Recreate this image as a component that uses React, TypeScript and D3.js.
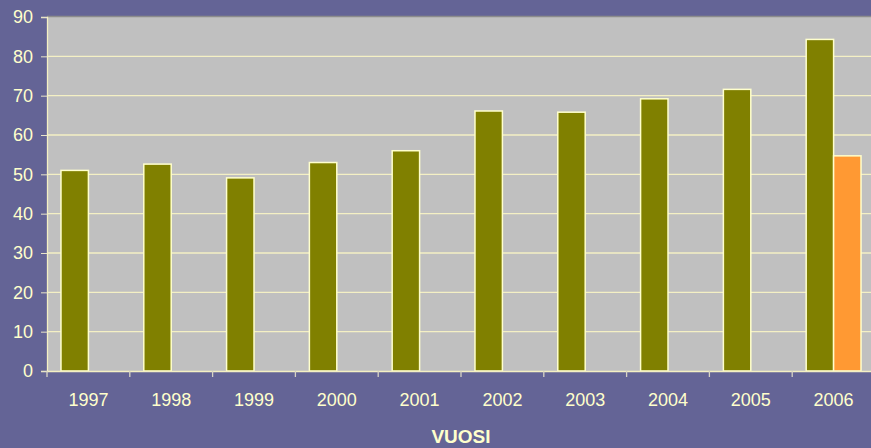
import React, { useRef, useEffect } from "react";
import { select, scaleBand, scaleLinear, axisLeft, axisBottom, range } from "d3";

const years = ["1997", "1998", "1999", "2000", "2001", "2002", "2003", "2004", "2005", "2006"];
const seriesKeys = ["a", "b"];
const seriesA = [51.0, 52.6, 49.1, 53.0, 56.0, 66.1, 65.8, 69.2, 71.6, 84.3];
const seriesB = [null, null, null, null, null, null, null, null, null, 54.7];
const seriesColors = ["#808000", "#FF9933"];
const yTicks = [0, 10, 20, 30, 40, 50, 60, 70, 80, 90];
const xTitle = "VUOSI";

const W = 871;
const H = 448;
const margin = { top: 17, left: 47, bottom: 77, right: -4 };
const textColor = "#FFFFCC";

export default function App() {
    const svgRef = useRef(null);

    useEffect(() => {
        const svg = select(svgRef.current);
        svg.selectAll("*").remove();

        const innerW = W - margin.left - margin.right;
        const innerH = H - margin.top - margin.bottom;

        const x = scaleBand().domain(years).range([margin.left, margin.left + innerW]).padding(0);
        const xs = scaleBand().domain(seriesKeys).range([0, x.bandwidth()]).paddingInner(0).paddingOuter(0.51);
        const y = scaleLinear().domain([0, 90]).range([margin.top + innerH, margin.top]);

        // background
        svg.append("rect").attr("width", W).attr("height", H).attr("fill", "#646496");
        svg.append("rect")
            .attr("x", margin.left).attr("y", margin.top)
            .attr("width", innerW).attr("height", innerH)
            .attr("fill", "#C0C0C0");

        // grid
        svg.append("g")
            .selectAll("line")
            .data(yTicks.filter(t => t > 0 && t < 90))
            .join("line")
            .attr("x1", margin.left).attr("x2", margin.left + innerW)
            .attr("y1", d => y(d)).attr("y2", d => y(d))
            .attr("stroke", "#F4F0C4").attr("stroke-width", 1.3);

        // top border
        svg.append("line")
            .attr("x1", margin.left).attr("x2", W)
            .attr("y1", margin.top - 0.5).attr("y2", margin.top - 0.5)
            .attr("stroke", "#8C8C8C").attr("stroke-width", 1.5);

        // bars
        const rows = years.map((yr, i) => ({ yr, vals: [seriesA[i], seriesB[i]] }));
        const groups = svg.append("g")
            .selectAll("g")
            .data(rows)
            .join("g")
            .attr("transform", d => `translate(${x(d.yr)},0)`);
        groups.selectAll("rect")
            .data(d => d.vals.map((v, k) => ({ v, k })).filter(e => e.v != null))
            .join("rect")
            .attr("x", e => xs(seriesKeys[e.k]))
            .attr("width", xs.bandwidth())
            .attr("y", e => y(e.v))
            .attr("height", e => y(0) - y(e.v))
            .attr("fill", e => seriesColors[e.k])
            .attr("stroke", "#FFFFCC")
            .attr("stroke-width", 1.5);

        // y axis
        const ya = svg.append("g")
            .attr("transform", `translate(${margin.left},0)`)
            .call(axisLeft(y).tickValues(yTicks).tickSize(6).tickPadding(8));
        ya.select(".domain").attr("stroke", "#F4F0C4").attr("stroke-width", 1.3);
        ya.selectAll(".tick line").attr("stroke", "#E8E4C8");
        ya.selectAll("text")
            .attr("fill", textColor)
            .attr("font-family", "'Liberation Sans', Arial, sans-serif")
            .attr("font-size", 18);

        // x axis
        const xa = svg.append("g")
            .attr("transform", `translate(0,${y(0)})`)
            .call(axisBottom(x).tickSize(0).tickPadding(22));
        xa.select(".domain").attr("stroke", "#F4F0C4").attr("stroke-width", 1.3);
        xa.selectAll("text")
            .attr("fill", textColor)
            .attr("font-family", "'Liberation Sans', Arial, sans-serif")
            .attr("font-size", 18);

        // category separators
        svg.append("g")
            .selectAll("line")
            .data(range(years.length))
            .join("line")
            .attr("x1", i => x(years[i])).attr("x2", i => x(years[i]))
            .attr("y1", y(0)).attr("y2", y(0) + 6)
            .attr("stroke", "#D8D4C4").attr("stroke-width", 1.3);

        svg.append("text")
            .attr("x", 461).attr("y", 443)
            .attr("text-anchor", "middle")
            .attr("fill", textColor)
            .attr("font-family", "'Liberation Sans', Arial, sans-serif")
            .attr("font-weight", "bold")
            .attr("font-size", 19)
            .text(xTitle);
    }, []);

    return (
        <div style={{ position: "absolute", left: 0, top: 0 }}>
            <svg ref={svgRef} width={W} height={H} style={{ display: "block" }}></svg>
        </div>
    );
}
